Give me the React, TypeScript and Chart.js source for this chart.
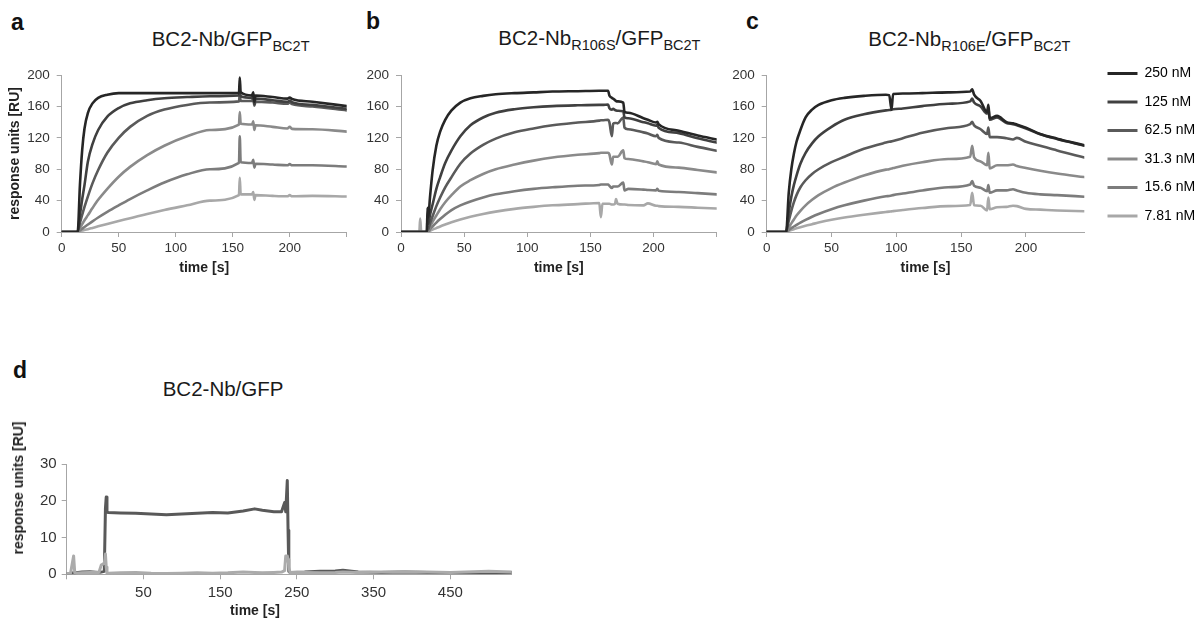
import React, { useEffect, useRef } from 'react';
import { Chart, registerables } from 'chart.js';

Chart.register(...registerables);

const FONT = '"Liberation Sans", Arial, Helvetica, sans-serif';
const AXIS = '#a6a6a6';
Chart.defaults.font.family = FONT;
Chart.defaults.color = '#333';

// ---------- shared series info ----------
const seriesLabels = ['250 nM', '125 nM', '62.5 nM', '31.3 nM', '15.6 nM', '7.81 nM'];
const seriesColors = ['#262626', '#404040', '#5a5a5a', '#8a8a8a', '#7c7c7c', '#a8a8a8'];
const yTicksKin = [0, 40, 80, 120, 160, 200];

// ---------- panel a : BC2-Nb / GFP_BC2T ----------
const timeA = [0, 14, 16, 18, 20, 23, 27, 32, 40, 50, 60, 75, 90, 110, 130, 155.5, 156.2, 157, 167, 168, 169, 170, 185, 198, 200, 202, 220, 250];
const a250 = [0, 0, 60, 105, 132, 152, 164, 171, 175, 177, 177, 177, 177, 177, 177, 177, 197, 178, 174, 178, 166, 174, 172, 170, 171.5, 169.5, 166, 160.5];
const a125 = [0, 0, 22, 42, 60, 90, 112, 130, 147, 158, 164, 168, 170.5, 172, 173, 174, 180, 173, 171, 175, 163, 170, 168, 166, 167.5, 165.5, 162, 157];
const a62 = [0, 0, 11.5, 22, 32, 45.5, 62, 79, 101, 120, 134, 148, 156, 162, 165, 166.5, 175, 167, 167, 171, 161, 166, 165, 163.5, 165, 163, 160, 155];
const a31 = [0, 0, 5, 10, 15, 21.5, 30.5, 41, 55, 70.5, 83, 98, 110, 122, 130, 137, 153, 138, 137, 141, 130, 136, 134, 132, 134, 131.5, 131, 128];
const a15 = [0, 0, 2.2, 4.3, 6.4, 9.5, 13.6, 18.5, 25.7, 34, 42, 53, 63, 73.5, 80, 88, 122, 89, 88, 92, 82, 87, 86, 85, 86.5, 85, 85, 83.5];
const a7 = [0, 0, 0.9, 1.8, 2.5, 3.6, 5.2, 7.2, 10.3, 14, 17.5, 23, 28, 34, 40, 47, 69, 48, 48, 51, 41, 47, 46, 45.5, 47, 45.5, 46, 45.3];

// ---------- panel b : BC2-Nb R106S / GFP_BC2T ----------
const timeB = [0, 14.5, 15.2, 16, 20.5, 21, 21.5, 23, 25, 28, 31, 35, 40, 47, 55, 65, 75, 90, 105, 120, 140, 157, 158.3, 159.5, 164, 165, 167, 168, 169.5, 170.3, 171.5, 176, 177, 180, 192, 195.5, 202, 203, 204, 220, 235, 250];
const b250 = [0, 0, 0, 0, 0, 31, 18, 45, 78, 110, 128, 143, 155, 165, 170.5, 173.5, 175.5, 177, 178, 179, 179.5, 180, 180, 180, 180, 174, 171, 170, 168, 167, 166.5, 165, 153, 152, 145, 143, 139.5, 140.5, 137.5, 129, 123, 118];
const b125 = [0, 0, 0, 0, 0, 20, 10, 22, 35, 55, 70, 88, 104, 122, 136, 146, 152, 156.5, 159, 160.5, 161.5, 162, 162, 162, 162.5, 158, 156, 157, 155.5, 155, 154.5, 154, 146, 145, 140, 138.5, 135.5, 136.5, 133, 126, 119.5, 114];
const b62 = [0, 0, 0, 0, 0, 5, 3, 11, 20, 33, 44, 57, 70, 87, 100, 111, 119, 127, 132, 136, 139.5, 142, 142.5, 142.5, 143, 140, 122, 138, 139, 139, 138.5, 146, 133, 131, 127, 125.5, 122, 124, 120, 114, 108.5, 103.5];
const b31 = [0, 0, 0, 0, 0, 2, 1, 7, 13, 21, 29, 38, 47, 58, 66, 74, 80, 86, 91, 95, 98.5, 100.5, 101, 101, 101, 99, 86, 96, 96, 96, 96, 104, 94, 93, 90, 89, 86.5, 90, 86, 82, 79, 76];
const b15 = [0, 0, 0, 0, 0, 1, 0.5, 3.5, 7, 12, 16.5, 22, 28, 34, 39, 44, 48, 52, 55, 57, 59, 60, 60.5, 60.5, 60.5, 59, 56, 58, 58, 58, 58, 63, 53, 55, 54, 53.5, 53, 55, 52.5, 51, 49.5, 48];
const b7 = [0, 0, 17, 0, 0, 0.5, 0.3, 1.5, 3, 5, 7, 9.5, 12.5, 16, 19.5, 23, 26, 29.5, 32, 34, 35.5, 37, 19, 36, 36, 36, 35, 35, 36, 42, 36, 35, 35, 34.5, 34, 36.5, 33.5, 33.5, 33, 32, 31, 30];

// ---------- panel c : BC2-Nb R106E / GFP_BC2T ----------
const timeC = [0, 15, 17, 19, 21, 23, 26, 30, 35, 40, 50, 60, 75, 92, 94.5, 96.3, 97.5, 105, 120, 140, 157, 158.5, 160, 165, 170, 171, 172, 177.7, 185, 190, 193, 200, 211, 224, 245];
const c250 = [0, 0, 50, 80, 100, 115, 130, 146, 156, 162, 168, 171, 173.5, 175, 174.5, 156, 176, 176.5, 177, 178, 179, 182, 175, 167, 153, 162, 145, 148, 140, 138.5, 137, 133, 125, 119, 110.5];
const c125 = [0, 0, 25, 45, 60, 72, 87, 101, 113, 122, 134, 143, 150, 155, 155.5, 156, 156.5, 157.5, 160.5, 163.5, 166.5, 170, 165, 160, 151, 158, 143, 146, 139, 137.5, 136, 132, 124.5, 118.5, 110];
const c62 = [0, 0, 14, 27, 38, 47, 57, 66, 74, 80, 89, 96, 106, 114, 115, 115.5, 116, 119.5, 126.5, 132.5, 137.5, 140.5, 136, 131, 125, 133, 121, 121, 119.5, 118, 120, 115, 110, 104, 95];
const c31 = [0, 0, 6, 11, 16, 21, 27, 34, 41, 47, 56, 63, 72, 79.5, 80, 81, 81.5, 84.5, 89, 93, 96, 110, 95, 90, 85, 101, 81, 85, 85, 86, 84, 81.5, 78, 74.5, 70];
const c15 = [0, 0, 2.5, 5, 7, 9, 12, 15.5, 19.5, 23, 29, 34, 40, 45.5, 46, 46.5, 47, 49, 53, 57, 60.5, 65, 59, 56.5, 52, 60, 50, 53, 53, 54.5, 53, 50, 48, 47, 45];
const c7 = [0, 0, 1.3, 2.5, 3.6, 4.7, 6.2, 8, 10, 12, 15.5, 18.5, 22, 25.5, 26, 26.3, 26.6, 28, 30.5, 33, 34.5, 50, 34, 33.5, 27.5, 44, 29, 31.5, 32, 33.5, 33, 29.5, 28.5, 27.5, 26.5];

// ---------- panel d : BC2-Nb / GFP ----------
const timeD = [-50, -45, -41, -39.5, -38, -30, -20, -8, -5, -1, 0.5, 1.5, 2.5, 4, 20, 40, 60, 80, 100, 120, 140, 160, 180, 195, 205, 220, 230, 234, 235.5, 237.5, 238.5, 239.5, 241, 260, 280, 300, 310, 330, 360, 390, 420, 450, 480, 500, 530];
const dHigh = [0.2, 0.3, 0.4, 0.3, 0.4, 0.6, 0.7, 0.5, 0.6, 0.8, 18, 21, 17, 16.8, 16.7, 16.6, 16.4, 16.2, 16.4, 16.6, 16.8, 16.7, 17.2, 17.8, 17.4, 17, 17, 19.5, 17, 25.5, 12, 0.8, 0.5, 0.6, 0.8, 0.9, 1.1, 0.6, 0.5, 0.6, 0.5, 0.4, 0.5, 0.4, 0.5];
const dLow = [0.2, 0.3, 5, 0.4, 0.3, 0.4, 0.5, 0.5, 2.5, 3, 5.5, 2, 0.3, 0.3, 0.4, 0.5, 0.3, 0.2, 0.3, 0.4, 0.3, 0.4, 0.6, 0.5, 0.4, 0.5, 0.6, 1, 5, 5, 4, 2, 0.5, 0.5, 0.4, 0.5, 0.6, 0.5, 0.6, 0.7, 0.6, 0.5, 0.7, 0.8, 0.6];
const xTicksD = [-50, 50, 150, 250, 350, 450];
const yTicksD = [0, 10, 20, 30];

function axisCommon(tickSize: number, padding: number) {
  return {
    grid: { drawOnChartArea: false, drawTicks: true, tickLength: 5, color: AXIS, lineWidth: 1 },
    border: { display: true, color: AXIS, width: 1 },
    ticks: { autoSkip: false, maxRotation: 0, padding, color: '#333', font: { size: tickSize, family: FONT } },
  };
}

function kineticsConfig(times: number[], series: number[][], o: any): any {
  const xc: any = axisCommon(13.5, 3);
  const yc: any = axisCommon(13.5, 7);
  return {
    type: 'line',
    data: {
      datasets: series.map((vals, i) => ({
        label: seriesLabels[i],
        data: times.map((t, j) => ({ x: t, y: vals[j] })),
        borderColor: seriesColors[i],
        backgroundColor: seriesColors[i],
        borderWidth: 2.6,
        borderJoinStyle: 'round',
        borderCapStyle: 'round',
        pointRadius: 0,
        cubicInterpolationMode: 'monotone',
        fill: false,
      })),
    },
    options: {
      animation: false,
      responsive: false,
      devicePixelRatio: 1,
      events: [],
      layout: { padding: o.pad },
      plugins: { legend: { display: false }, tooltip: { enabled: false }, title: { display: false } },
      scales: {
        x: {
          type: 'linear',
          min: 0,
          max: o.xMax,
          afterBuildTicks: (s: any) => { s.ticks = o.xTicks.map((v: number) => ({ value: v })); },
          afterFit: (s: any) => { s.height = o.xH; },
          grid: xc.grid,
          border: xc.border,
          ticks: { ...xc.ticks, callback: (v: any) => (o.hideX.includes(v) ? '' : String(v)) },
          title: { display: true, text: 'time [s]', color: '#222', font: { size: 14, weight: 'bold', family: FONT }, padding: { top: 0, bottom: 2 } },
        },
        y: {
          type: 'linear',
          min: 0,
          max: 200,
          afterBuildTicks: (s: any) => { s.ticks = yTicksKin.map((v) => ({ value: v })); },
          afterFit: (s: any) => { s.width = o.yW; },
          grid: yc.grid,
          border: yc.border,
          ticks: yc.ticks,
          title: o.yTitle
            ? { display: true, text: 'response units [RU]', color: '#222', font: { size: 14, weight: 'bold', family: FONT }, padding: { top: 7, bottom: 0 } }
            : { display: false },
        },
      },
    },
  };
}

function panelDConfig(): any {
  const xc: any = axisCommon(15, 4.5);
  const yc: any = axisCommon(15, 5);
  const mk = (label: string, vals: number[], color: string) => ({
    label,
    data: timeD.map((t, j) => ({ x: t, y: vals[j] })),
    borderColor: color,
    backgroundColor: color,
    borderWidth: 3,
    borderJoinStyle: 'round',
    borderCapStyle: 'round',
    pointRadius: 0,
    tension: 0,
    fill: false,
  });
  return {
    type: 'line',
    data: { datasets: [mk('low', dLow, '#ababab'), mk('high', dHigh, '#595959')] },
    options: {
      animation: false,
      responsive: false,
      devicePixelRatio: 1,
      events: [],
      layout: { padding: { left: 0, top: 11.7, right: 18.3, bottom: 0.7 } },
      plugins: { legend: { display: false }, tooltip: { enabled: false } },
      scales: {
        x: {
          type: 'linear',
          min: -50,
          max: 530,
          afterBuildTicks: (s: any) => { s.ticks = xTicksD.map((v) => ({ value: v })); },
          afterFit: (s: any) => { s.height = 30; },
          grid: xc.grid,
          border: xc.border,
          ticks: { ...xc.ticks, callback: (v: any) => (v === -50 ? '' : String(v)) },
        },
        y: {
          type: 'linear',
          min: 0,
          max: 30,
          afterBuildTicks: (s: any) => { s.ticks = yTicksD.map((v) => ({ value: v })); },
          afterFit: (s: any) => { s.width = 66.7; },
          grid: yc.grid,
          border: yc.border,
          ticks: yc.ticks,
        },
      },
    },
  };
}

function legendConfig(): any {
  return {
    type: 'line',
    data: {
      datasets: seriesLabels.map((l, i) => ({ label: l, data: [], borderColor: seriesColors[i], backgroundColor: seriesColors[i] })),
    },
    options: {
      animation: false,
      responsive: false,
      devicePixelRatio: 1,
      events: [],
      layout: { padding: 0 },
      scales: { x: { display: false }, y: { display: false } },
      plugins: {
        tooltip: { enabled: false },
        legend: {
          display: true,
          position: 'top',
          align: 'start',
          labels: {
            boxWidth: 30,
            boxHeight: 3,
            padding: 14.5,
            color: '#333',
            font: { size: 14, family: FONT },
            generateLabels: (chart: any) =>
              chart.data.datasets.map((ds: any, i: number) => ({
                text: ds.label,
                fillStyle: ds.borderColor,
                strokeStyle: ds.borderColor,
                lineWidth: 0,
                hidden: false,
                datasetIndex: i,
              })),
          },
        },
      },
    },
  };
}

const abs = (left: number, top: number, w: number, h: number): any => ({ position: 'absolute', left, top, width: w, height: h });

function Title(props: { left: number; top: number; size?: number; children: any }) {
  return (
    <div style={{ position: 'absolute', left: props.left, top: props.top, fontSize: props.size || 20.5, lineHeight: 1, whiteSpace: 'nowrap', color: '#1a1a1a' }}>
      {props.children}
    </div>
  );
}
const subStyle: any = { fontSize: 14.5, verticalAlign: '-5px', lineHeight: 1 };

function Letter(props: { left: number; top: number; t: string }) {
  return (
    <div style={{ position: 'absolute', left: props.left, top: props.top, fontSize: 23, fontWeight: 'bold', lineHeight: 1, color: '#111' }}>{props.t}</div>
  );
}

export default function App() {
  const aRef = useRef<HTMLCanvasElement>(null);
  const bRef = useRef<HTMLCanvasElement>(null);
  const cRef = useRef<HTMLCanvasElement>(null);
  const dRef = useRef<HTMLCanvasElement>(null);
  const lRef = useRef<HTMLCanvasElement>(null);

  useEffect(() => {
    const charts: Chart[] = [];
    charts.push(new Chart(aRef.current as any, kineticsConfig(timeA, [a250, a125, a62, a31, a15, a7], {
      xMax: 250, xTicks: [0, 50, 100, 150, 200, 250], hideX: [250], yTitle: true,
      pad: { left: 0, top: 11.7, right: 13.3, bottom: 1.6 }, yW: 61.7, xH: 46.4,
    })));
    charts.push(new Chart(bRef.current as any, kineticsConfig(timeB, [b250, b125, b62, b31, b15, b7], {
      xMax: 250, xTicks: [0, 50, 100, 150, 200, 250], hideX: [250], yTitle: false,
      pad: { left: 0, top: 11.7, right: 13.3, bottom: 1.6 }, yW: 41, xH: 46.4,
    })));
    charts.push(new Chart(cRef.current as any, kineticsConfig(timeC, [c250, c125, c62, c31, c15, c7], {
      xMax: 245, xTicks: [0, 50, 100, 150, 200], hideX: [], yTitle: false,
      pad: { left: 0, top: 11.7, right: 10.7, bottom: 1.6 }, yW: 36.7, xH: 46.4,
    })));
    charts.push(new Chart(dRef.current as any, panelDConfig()));
    charts.push(new Chart(lRef.current as any, legendConfig()));
    return () => charts.forEach((c) => c.destroy());
  }, []);

  return (
    <div style={{ position: 'fixed', left: 0, top: 0, width: 1202, height: 622, background: '#fff', overflow: 'hidden', fontFamily: FONT }}>
      <canvas ref={aRef} width={360} height={220} style={abs(0, 60, 360, 220)} />
      <canvas ref={bRef} width={370} height={220} style={abs(360, 60, 370, 220)} />
      <canvas ref={cRef} width={365} height={220} style={abs(730, 60, 365, 220)} />
      <canvas ref={lRef} width={109} height={400} style={abs(1093, 52, 109, 400)} />
      <canvas ref={dRef} width={530} height={155} style={abs(0, 450, 530, 155)} />

      <Letter left={11} top={10.5} t="a" />
      <Letter left={366} top={10} t="b" />
      <Letter left={746} top={10} t="c" />
      <Letter left={13} top={358.5} t="d" />

      <Title left={151.7} top={29.2}>BC2-Nb/GFP<sub style={subStyle}>BC2T</sub></Title>
      <Title left={498.3} top={28.2}>BC2-Nb<sub style={subStyle}>R106S</sub>/GFP<sub style={subStyle}>BC2T</sub></Title>
      <Title left={868.3} top={29.2}>BC2-Nb<sub style={subStyle}>R106E</sub>/GFP<sub style={subStyle}>BC2T</sub></Title>
      <Title left={162.7} top={379.3}>BC2-Nb/GFP</Title>

      <div style={{ position: 'absolute', left: 18.3, top: 488, transform: 'translate(-50%, -50%) rotate(-90deg)', fontSize: 14, fontWeight: 'bold', lineHeight: 1, whiteSpace: 'nowrap', color: '#222' }}>response units [RU]</div>
      <div style={{ position: 'absolute', left: 255, top: 610, transform: 'translate(-50%, -50%)', fontSize: 14, fontWeight: 'bold', lineHeight: 1, whiteSpace: 'nowrap', color: '#222' }}>time [s]</div>
    </div>
  );
}
